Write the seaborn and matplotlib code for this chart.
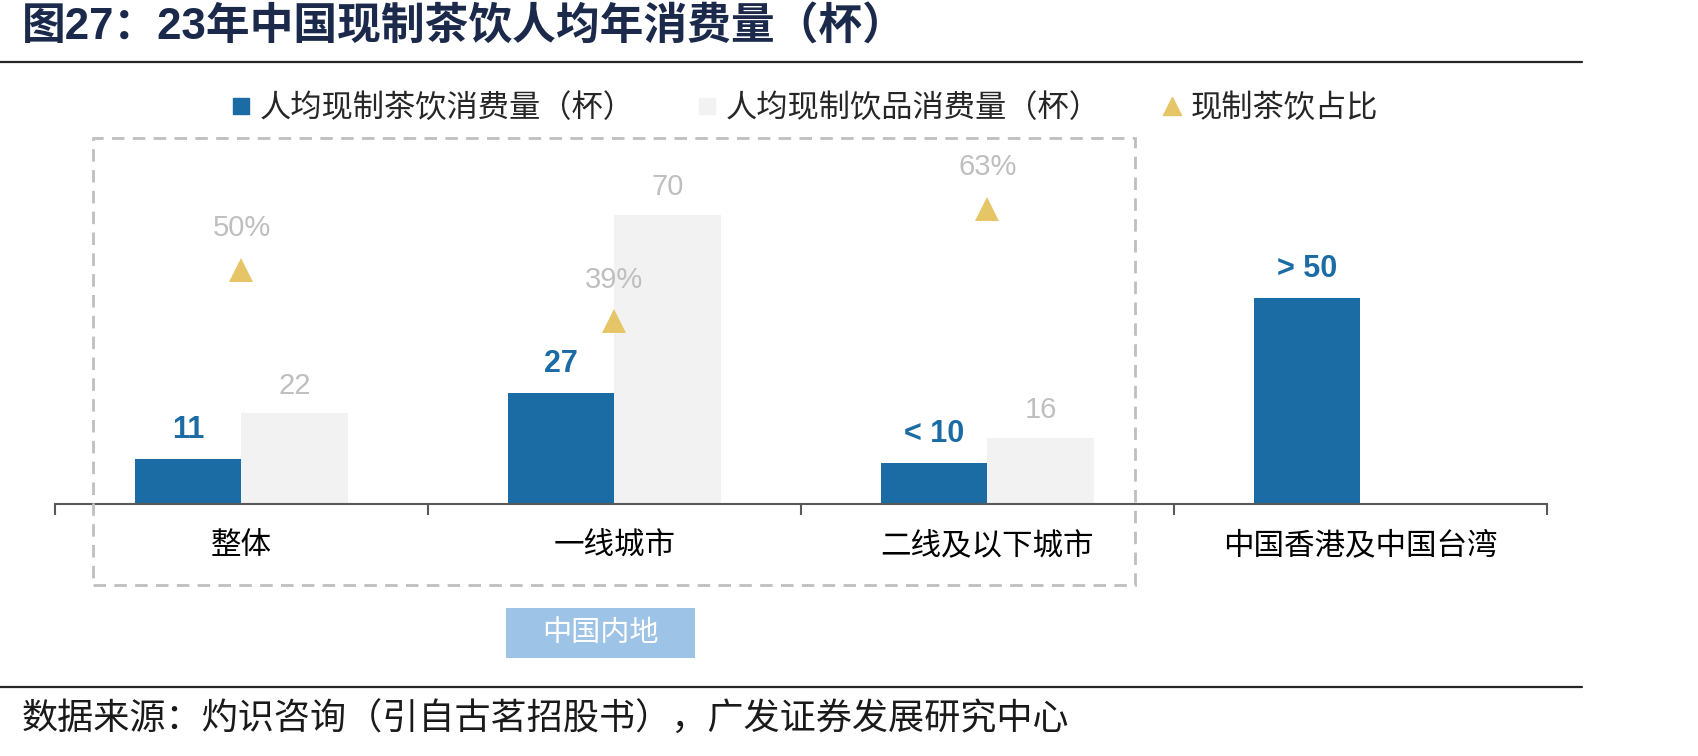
import numpy as np
import pandas as pd
import matplotlib
matplotlib.use('Agg')
import matplotlib.pyplot as plt
import seaborn as sns
from matplotlib.patches import Rectangle
from matplotlib.lines import Line2D

# ----------- Data -----------
categories = ['整体', '一线城市', '二线及以下城市', '中国香港及中国台湾']
tea_cups = [11, 27, 10, 50]
drink_cups = [22, 70, 16, np.nan]
tea_share = [50, 39, 63, np.nan]
tea_labels = ['11', '27', '< 10', '> 50']
drink_labels = ['22', '70', '16']
share_labels = ['50%', '39%', '63%']

s_tea = '人均现制茶饮消费量（杯）'
s_drink = '人均现制饮品消费量（杯）'
s_share = '现制茶饮占比'

title = '图27：23年中国现制茶饮人均年消费量（杯）'
source = '数据来源：灼识咨询（引自古茗招股书），广发证券发展研究中心'
group_note = '中国内地'

blue = '#1b6ba5'
grey = '#f2f2f2'
gold = '#e5c566'
label_grey = '#bfbfbf'

df = pd.DataFrame({
    'cat': categories * 2,
    'series': [s_tea] * len(categories) + [s_drink] * len(categories),
    'value': tea_cups + drink_cups,
}).dropna()

# ----------- Style -----------
sns.set_theme(style='white')
plt.rcParams['font.family'] = ['Liberation Sans', 'Noto Sans CJK SC']
plt.rcParams['axes.unicode_minus'] = False

W, H = 1698, 756
fig = plt.figure(figsize=(W / 100, H / 100), dpi=100)
ax = fig.add_axes([55 / W, (H - 504.3) / H, 1491.6 / W, 371.7 / H])

sns.barplot(data=df, x='cat', y='value', hue='series',
            order=categories, hue_order=[s_tea, s_drink],
            palette=[blue, grey], saturation=1, width=0.571,
            errorbar=None, legend=False, linewidth=0, ax=ax)
ax.set_ylim(0, 90)

# bar value labels
ax.bar_label(ax.containers[0], labels=tea_labels, padding=10,
             fontsize=22, fontweight='bold', color=blue)
ax.bar_label(ax.containers[1], labels=drink_labels, padding=10,
             fontsize=21, color=label_grey)

# share triangles on secondary axis
ax2 = ax.twinx()
sns.pointplot(x=categories, y=tea_share, order=categories, color=gold,
              markers='^', linestyle='none', markersize=17,
              markeredgewidth=0, errorbar=None, ax=ax2)
ax2.set_ylim(0, 79.25)
for (px, py), lab in zip(ax2.lines[0].get_xydata(), share_labels):
    ax2.annotate(lab, (px, py), xytext=(0, 30), textcoords='offset points',
                 ha='center', va='center', fontsize=21, color=label_grey)

ax.set_xlim(-0.5, 3.5)
ax.set_xlabel('')
ax.set_ylabel('')
ax2.set_ylabel('')
ax.set_yticks([])
ax2.set_yticks([])
for a in (ax, ax2):
    for side in ['top', 'left', 'right']:
        a.spines[side].set_visible(False)
ax2.spines['bottom'].set_visible(False)
ax.spines['bottom'].set_color('#595959')
ax.spines['bottom'].set_linewidth(1.5)

ax.set_xticks(np.arange(-0.5, len(categories), 1), labels=[''] * (len(categories) + 1))
ax.set_xticks(np.arange(len(categories)), labels=categories, minor=True)
ax.tick_params(axis='x', which='major', length=8, width=1.5, color='#595959',
               direction='out', bottom=True)
ax.tick_params(axis='x', which='minor', length=0, pad=19, labelsize=22,
               labelcolor='black')

# ----------- Legend -----------
handles = [
    Line2D([], [], marker='s', linestyle='none', markersize=11, color=blue),
    Line2D([], [], marker='s', linestyle='none', markersize=11, color=grey),
    Line2D([], [], marker='^', linestyle='none', markersize=13, color=gold),
]
fig.legend(handles, [s_tea, s_drink, s_share], loc='center',
           bbox_to_anchor=(805 / W, 1 - 109.4 / H), ncol=3, frameon=False,
           fontsize=22.5, handlelength=0.6, handletextpad=0.3, columnspacing=2.0)

# ----------- Decorations -----------
fig.add_artist(Rectangle((93.3 / W, (H - 585.3) / H), (1135 - 93.3) / W,
                         (585.3 - 137.5) / H, transform=fig.transFigure,
                         fill=False, edgecolor='#bfbfbf', lw=2,
                         linestyle=(0, (4.5, 3))))
fig.add_artist(Rectangle((506 / W, (H - 657.7) / H), (695 - 506) / W,
                         (657.7 - 608.3) / H, transform=fig.transFigure,
                         facecolor='#9dc3e6', edgecolor='none'))
fig.text(600.5 / W, 1 - 633 / H, group_note, ha='center', va='center',
         fontsize=21, color='white')

for yy in (61.5, 686.7):
    fig.add_artist(Line2D([0, 1582 / W], [1 - yy / H] * 2,
                          transform=fig.transFigure, color='#262626', lw=1.6))

fig.text(22 / W, 1 - 28 / H, title, ha='left', va='center', fontsize=31.5,
         fontweight='bold', color='#1b2a4a')
fig.text(22 / W, 1 - 720 / H, source, ha='left', va='center', fontsize=26,
         color='#1a1a1a')

fig.savefig('out.png', dpi=100)
